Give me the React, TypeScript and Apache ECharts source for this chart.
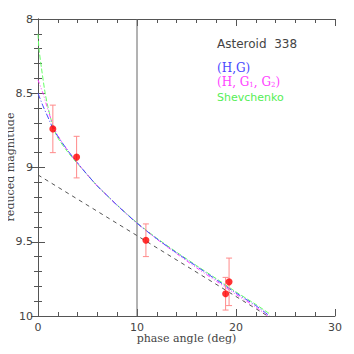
import React, { useEffect, useRef } from "react";
import * as echarts from "echarts";

const xTicks = [0, 10, 20, 30];
const yTicks = [8, 8.5, 9, 9.5, 10];

// observations: [phase, mag, lower, upper]
const obs: number[][] = [
  [1.5, 8.74, 8.58, 8.9],
  [3.9, 8.93, 8.79, 9.07],
  [10.9, 9.49, 9.38, 9.6],
  [18.95, 9.85, 9.74, 9.96],
  [19.3, 9.77, 9.61, 9.93],
];

const hgCurve: number[][] = [
  [0, 8.5], [0.5, 8.585], [1, 8.66], [1.5, 8.735], [2, 8.79], [3, 8.885], [4, 8.97],
  [5, 9.05], [6, 9.125], [7, 9.19], [8, 9.255], [10, 9.375], [12, 9.48], [14, 9.575],
  [16, 9.665], [18, 9.755], [20, 9.845], [22, 9.93], [23.4, 10.0],
];

const hg12Curve: number[][] = [
  [0, 8.41], [0.5, 8.5], [1, 8.61], [1.5, 8.71], [2, 8.785], [3, 8.885], [4, 8.97],
  [5, 9.05], [6, 9.125], [7, 9.19], [8, 9.255], [10, 9.375], [12, 9.482], [14, 9.58],
  [16, 9.675], [18, 9.765], [20, 9.855], [22, 9.94], [23.2, 10.0],
];

const shevCurve: number[][] = [
  [0, 8.1], [0.1, 8.2], [0.35, 8.33], [0.7, 8.49], [1, 8.59], [1.5, 8.72], [2, 8.8],
  [3, 8.895], [4, 8.975], [5, 9.05], [6, 9.125], [7, 9.19], [8, 9.253], [10, 9.372],
  [12, 9.476], [14, 9.57], [16, 9.66], [18, 9.748], [20, 9.838], [22, 9.922], [23.5, 9.99],
];

const linearPart: number[][] = [[0, 9.05], [11.5, 9.52], [23.2, 10.0]];

const refLine: number[][] = [[10, 8], [10, 10]];

const AX = "#555";

export default function App() {
  const ref = useRef<HTMLDivElement>(null);
  useEffect(() => {
    const chart = echarts.init(ref.current!, null, { renderer: "svg" });
    const tickCommon = {
      axisLine: { show: true, lineStyle: { color: AX, width: 1 } },
      axisTick: { show: true, inside: true, length: 7, lineStyle: { color: AX } },
      minorTick: { show: true, splitNumber: 5, length: 4, lineStyle: { color: AX } },
      splitLine: { show: false },
      minorSplitLine: { show: false },
    };
    chart.setOption({
      animation: false,
      grid: { left: 38, top: 19, width: 297, height: 297, outerBoundsMode: "none", containLabel: false },
      xAxis: [
        {
          type: "value", min: 0, max: 30, interval: 10, position: "bottom",
          ...tickCommon,
          axisLabel: { color: "#444", fontSize: 11, fontFamily: "DejaVu Sans", margin: 6,
            formatter: (v: number) => (xTicks.includes(v) ? String(v) : "") },
          name: "phase angle (deg)", nameLocation: "middle", nameGap: 17, nameMoveOverlap: false,
          nameTextStyle: { color: "#444", fontSize: 11, fontFamily: "DejaVu Serif" },
        },
        {
          type: "value", min: 0, max: 30, interval: 10, position: "top",
          ...tickCommon, axisLabel: { show: false },
        },
      ],
      yAxis: [
        {
          type: "value", min: 8, max: 10, interval: 0.5, inverse: true, position: "left",
          ...tickCommon,
          axisLabel: { color: "#444", fontSize: 11, fontFamily: "DejaVu Sans", margin: 5,
            formatter: (v: number) => (yTicks.includes(v) ? String(v) : "") },
        },
        {
          type: "value", min: 8, max: 10, interval: 0.5, inverse: true, position: "right",
          ...tickCommon, axisLabel: { show: false },
        },
      ],
      series: [
        {
          type: "line", data: refLine, symbol: "none",
          lineStyle: { color: "#666", width: 1 }, z: 1,
        },
        {
          type: "line", data: linearPart, symbol: "none",
          lineStyle: { color: "#555", width: 1, type: [4, 4] }, z: 2,
        },
        {
          type: "line", data: shevCurve, symbol: "none", smooth: 0.3,
          lineStyle: { color: "#66ff66", width: 1, type: [5, 2] }, z: 3,
        },
        {
          type: "line", data: hg12Curve, symbol: "none", smooth: 0.3,
          lineStyle: { color: "#ff44ff", width: 1, type: [4, 2, 1, 2, 1, 2] }, z: 4,
        },
        {
          type: "line", data: hgCurve, symbol: "none", smooth: 0.3,
          lineStyle: { color: "#4848ff", width: 1, type: [6, 2, 1, 2] }, z: 5,
        },
        {
          type: "custom",
          data: obs.map((o) => [o[0], o[2], o[3]]),
          encode: { x: 0, y: [1, 2] },
          z: 6,
          renderItem: (params: any, api: any) => {
            const x = api.value(0);
            const p1 = api.coord([x, api.value(1)]);
            const p2 = api.coord([x, api.value(2)]);
            const cw = 3;
            const st = { stroke: "#ff8a8a", lineWidth: 1 };
            return {
              type: "group",
              children: [
                { type: "line", shape: { x1: p1[0], y1: p1[1], x2: p2[0], y2: p2[1] }, style: st },
                { type: "line", shape: { x1: p1[0] - cw, y1: p1[1], x2: p1[0] + cw, y2: p1[1] }, style: st },
                { type: "line", shape: { x1: p2[0] - cw, y1: p2[1], x2: p2[0] + cw, y2: p2[1] }, style: st },
              ],
            };
          },
        },
        {
          type: "scatter", data: obs.map((o) => [o[0], o[1]]), symbol: "circle", symbolSize: 7,
          itemStyle: { color: "#ff0000" }, z: 7,
        },
      ],
      graphic: [
        {
          type: "text", x: 10, y: 167, rotation: Math.PI / 2,
          style: { text: "reduced magnitude", fill: "#444", fontSize: 11, fontFamily: "DejaVu Serif", align: "center", verticalAlign: "middle" },
        },
        { type: "text", left: 217, top: 38, style: { text: "Asteroid  338", fill: "#444", fontSize: 12, fontFamily: "DejaVu Sans" } },
        { type: "text", left: 217, top: 62, style: { text: "(H,G)", fill: "#4848ff", fontSize: 12, fontFamily: "DejaVu Serif" } },
        {
          type: "text", left: 217, top: 76,
          style: {
            text: "{a|(H, G}{s|1}{a|, G}{s|2}{a|)}",
            rich: {
              a: { fill: "#ff44ff", fontSize: 12, fontFamily: "DejaVu Serif" },
              s: { fill: "#ff44ff", fontSize: 7, fontFamily: "DejaVu Serif", padding: [6, 0, 0, 0] },
            },
          },
        },
        { type: "text", left: 217, top: 92, style: { text: "Shevchenko", fill: "#55ee55", fontSize: 11, fontFamily: "DejaVu Sans" } },
      ],
    });
    return () => chart.dispose();
  }, []);
  return <div ref={ref} style={{ width: 354, height: 354, marginLeft: -8, marginTop: -8 }} />;
}
